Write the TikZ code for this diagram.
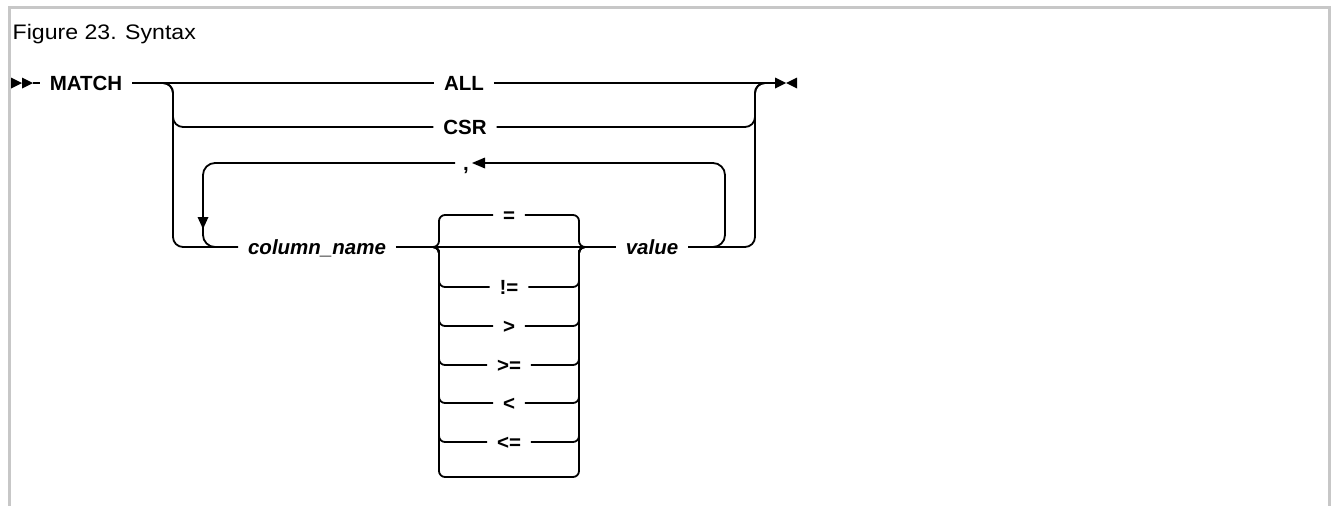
\documentclass[tikz,border=0pt]{standalone}
\usepackage{fontspec}
\setmainfont{Liberation Sans}
\newfontfamily\capfont[FakeStretch=1.1]{Liberation Sans}
\begin{document}
\begin{tikzpicture}[x=1pt,y=-1pt,
  rail/.style={line width=1.8pt, line cap=butt, draw=black},
  kw/.style={font=\fontsize{20.5}{20}\selectfont\bfseries, inner xsep=10pt,
    inner ysep=0pt, outer sep=0pt, text height=14.6pt, text depth=0pt},
  var/.style={kw, font=\fontsize{20.5}{20}\selectfont\bfseries\itshape},
  frame/.style={draw=black!22, line width=3pt}]
\useasboundingbox (0,0) rectangle (1331,506);

% page frame and caption
\draw[frame] (9.5,506) -- (9.5,7.5) -- (1329.5,7.5) -- (1329.5,506);
\node[anchor=base west, inner sep=0pt, font=\capfont\fontsize{21}{24}\selectfont]
  (cap) at (12.5,39.5) {Figure 23. Syntax};

% keywords and variables
\node[kw]  (match)   at (86,83)   {MATCH};
\node[kw]  (all)     at (464,83)  {ALL};
\node[kw]  (csr)     at (465,127) {CSR};
\node[kw, inner xsep=8pt] (comma) at (466,163) {,};
\node[var] (colname) at (317,247) {column\_name};
\node[var] (value)   at (652,247) {value};
\node[kw]  (eq)      at (509,215) {=};
\foreach \n/\t/\y in {ne/!=/287, gt/>/326, ge/>=/365, lt/</403, le/<=/442}
  \node[kw] (\n) at (509,\y) {\t};

% junctions and bends
\coordinate (st) at (33,83);
\coordinate (ep) at (775,83);
\coordinate (f0) at (163,83);
\coordinate (cL) at (173,127);
\coordinate (cB) at (173,247);
\coordinate (cR) at (755,83);
\coordinate (e0) at (765,83);
\coordinate (lb) at (711,247);
\coordinate (lr) at (725,163);
\coordinate (ab) at (485,163);
\coordinate (lm) at (203,247);
\coordinate (lj) at (223,247);
\coordinate (jL) at (433,247);
\coordinate (jR) at (587,247);
\coordinate (lM) at (439,247);
\coordinate (rM) at (579,247);
\coordinate (bl) at (439,477);
\coordinate (br) at (579,477);

% start and end marks
\fill (11,77.5) -- (22,83) -- (11,88.5) -- cycle;
\fill (22,77.5) -- (33,83) -- (22,88.5) -- cycle;
\fill (775,77.5) -- (786,83) -- (775,88.5) -- cycle;
\fill (797,77.5) -- (786,83) -- (797,88.5) -- cycle;

% main line with ALL
\draw[rail] (st) -- (match);
\draw[rail] (match) -- (all);
\draw[rail] (all) -- (ep);

% CSR branch
\draw[rail, rounded corners=10] (f0) -| (cL) -- (csr);
\draw[rail, rounded corners=10] (csr) -| (cR) -- (e0);

% column_name ... value branch
\draw[rail, rounded corners=10] (f0) -| (cB) -- (colname);
\draw[rail] (colname) -- (jL) -- (jR) -- (value);
\draw[rail, rounded corners=10] (value) -| (cR) -- (e0);

% repeat loop with separator
\draw[rail, rounded corners=12] (lb) -| (lr) -- (ab);
\fill (485,157.5) -- (485,168.5) -- (472,163) -- cycle;
\draw[rail, rounded corners=12] (comma) -| (lm) -- (lj);
\fill (197.5,217) -- (208.5,217) -- (203,229) -- cycle;

% comparison operators
\foreach \n in {eq,ne,gt,ge,lt,le}{
  \draw[rail, rounded corners=6] (jL) -- (lM) |- (\n);
  \draw[rail, rounded corners=6] (\n) -| (rM) -- (jR);
}
\draw[rail, rounded corners=6] (jL) -- (lM) -- (bl) -- (br) -- (rM) -- (jR);
\end{tikzpicture}
\end{document}
